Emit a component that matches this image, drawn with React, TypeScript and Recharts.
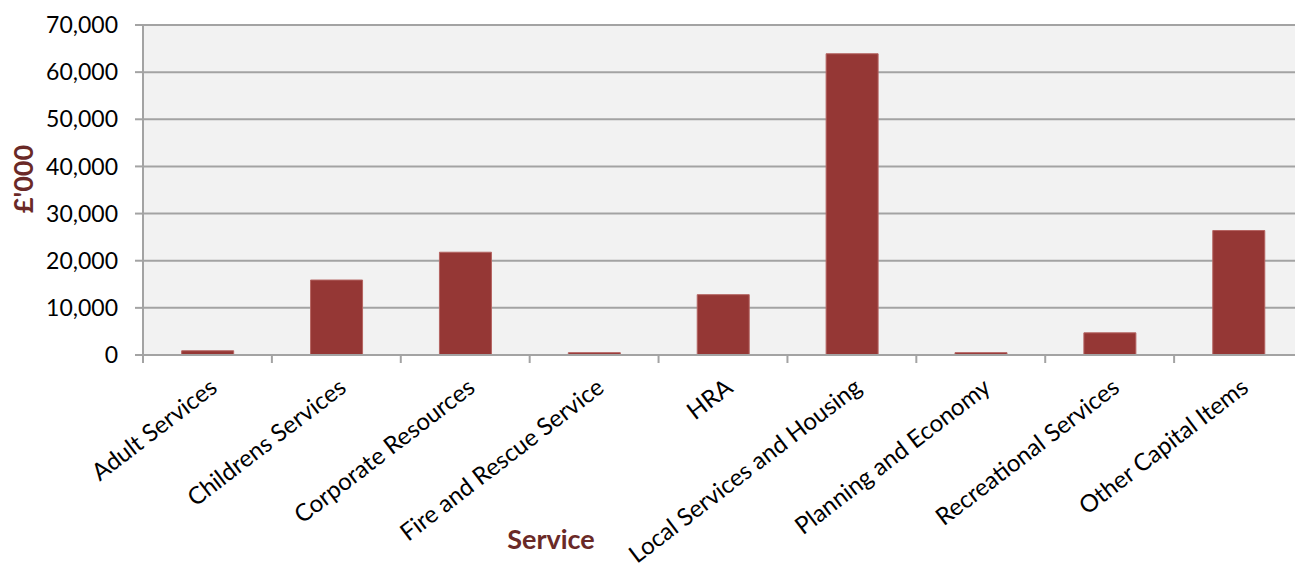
import React from 'react';
import { BarChart, Bar, XAxis, YAxis, CartesianGrid } from 'recharts';

const categories = [
  'Adult Services',
  'Childrens Services',
  'Corporate Resources',
  'Fire and Rescue Service',
  'HRA',
  'Local Services and Housing',
  'Planning and Economy',
  'Recreational Services',
  'Other Capital Items',
];
const spend = [900, 15900, 21800, 500, 12800, 63900, 500, 4700, 26400];
const yTicks = [0, 10000, 20000, 30000, 40000, 50000, 60000, 70000];
const yAxisLabel = "£'000";
const xAxisLabel = 'Service';

const data = categories.map((name, i) => ({ name, value: spend[i] }));

const CHART_W = 1310;
const CHART_H = 568;
const MARGIN = { top: 25, right: 7, left: 0, bottom: 0 };
const Y_W = 143;
const PLOT_W = CHART_W - MARGIN.left - MARGIN.right - Y_W;
const BAND = PLOT_W / categories.length;

const FONT = 'Lato, "Open Sans", sans-serif';
const LABEL_COLOR = '#6a2927';
const GRID = '#a3a3a3';

const CatTick = (props: any) => {
  const { x, y, payload } = props;
  const tx = x + 1;
  const ty = y + 22;
  return (
    <g>
      <line x1={x - BAND / 2} x2={x - BAND / 2} y1={y} y2={y + 8} stroke={GRID} strokeWidth={2} />
      <text
        x={tx}
        y={ty}
        dy="0.71em"
        textAnchor="end"
        transform={`rotate(-37.5, ${tx}, ${ty})`}
        fontFamily={FONT}
        fontSize={24}
        fill="#000"
      >
        {payload.value}
      </text>
    </g>
  );
};

export default function App() {
  return (
    <div style={{ position: 'absolute', left: 0, top: 0, width: 1295, height: 568, overflow: 'hidden', background: '#fff' }}>
      <BarChart width={CHART_W} height={CHART_H} data={data} margin={MARGIN} barCategoryGap="30%">
        <CartesianGrid vertical={false} fill="#f2f2f2" stroke={GRID} strokeWidth={2} />
        <XAxis
          dataKey="name"
          interval={0}
          height={213}
          tickSize={0}
          tickMargin={0}
          tickLine={false}
          axisLine={{ stroke: GRID, strokeWidth: 2 }}
          tick={<CatTick />}
          label={{
            value: xAxisLabel,
            position: 'insideBottom',
            offset: 19,
            dx: -172,
            fill: LABEL_COLOR,
            fontFamily: FONT,
            fontSize: 27,
            fontWeight: 700,
          }}
        />
        <YAxis
          width={Y_W}
          domain={[0, 70000]}
          ticks={yTicks}
          interval={0}
          tickSize={8}
          tickMargin={17}
          tickLine={{ stroke: GRID, strokeWidth: 2 }}
          axisLine={{ stroke: GRID, strokeWidth: 2 }}
          tick={{ fill: '#000', fontFamily: FONT, fontSize: 23 }}
          tickFormatter={(v: number) => v.toLocaleString('en-US')}
          label={{
            content: () => (
              <text
                x={33}
                y={179}
                transform="rotate(-90, 33, 179)"
                textAnchor="middle"
                fill={LABEL_COLOR}
                fontFamily={FONT}
                fontSize={27}
                fontWeight={700}
              >
                {yAxisLabel}
              </text>
            ),
          }}
        />
        <Bar dataKey="value" fill="#953735" stroke="#b56462" strokeWidth={1} isAnimationActive={false} />
      </BarChart>
    </div>
  );
}
